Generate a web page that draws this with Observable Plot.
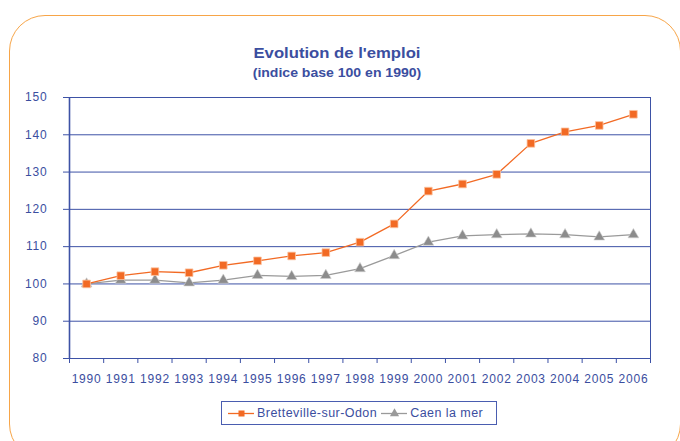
<!DOCTYPE html>
<html><head><meta charset="utf-8">
<script src="https://cdn.jsdelivr.net/npm/d3@7"></script>
<script src="https://cdn.jsdelivr.net/npm/@observablehq/plot@0.6"></script>
<style>
body{margin:0;background:#fff;font-family:"Liberation Sans",Arial,sans-serif;}
#wrap{position:relative;width:680px;height:441px;overflow:hidden;background:#fff;}
#frame{position:absolute;left:9px;top:15px;width:672px;height:445px;border:1.5px solid #F7A548;border-radius:36px;box-sizing:border-box;}
#chart{position:absolute;left:0;top:0;}
.t{position:absolute;left:0;width:674px;text-align:center;color:#3B4EA0;font-weight:bold;transform-origin:337px 50%;}
#title{top:45px;font-size:14.5px;transform:scaleX(1.15);}
#subtitle{top:66px;font-size:12px;transform:scaleX(1.17);}
#legend{position:absolute;left:221px;top:401px;width:276px;height:24px;border:1px solid #4A5DB0;box-sizing:border-box;display:flex;align-items:center;padding-left:6px;color:#3B4EA0;font-size:12.5px;letter-spacing:0.45px;white-space:nowrap;}
#legend svg{display:block;margin-right:3px;}
#chart text{letter-spacing:0.8px;}
</style></head><body>
<div id="wrap">
  <div id="frame"></div>
  <div id="chart"></div>
  <div class="t" id="title">Evolution de l'emploi</div>
  <div class="t" id="subtitle">(indice base 100 en 1990)</div>
  <div id="legend"></div>
</div>
<script>
const years = [1990,1991,1992,1993,1994,1995,1996,1997,1998,1999,2000,2001,2002,2003,2004,2005,2006];
const bretteville = [100,102.2,103.3,103,105,106.2,107.5,108.4,111.2,116.1,124.9,126.8,129.4,137.7,140.8,142.5,145.5];
const caen = [100,101,101,100.3,101,102.3,102,102.3,104.1,107.6,111.2,112.9,113.2,113.4,113.2,112.6,113.2];
const yTicks = [80,90,100,110,120,130,140,150];
const seriesNames = ["Bretteville-sur-Odon","Caen la mer"];

const blue = "#3D52A6";
const textBlue = "#3B4EA0";
const orange = "#F26A24";
const gray = "#8C8C8C";

const data = [];
years.forEach((y,i)=>{
  data.push({year:y, value:bretteville[i], series:seriesNames[0]});
  data.push({year:y, value:caen[i], series:seriesNames[1]});
});
const boundaries = years.map(y=>y-0.5).concat([years[years.length-1]+0.5]);

const chart = Plot.plot({
  width:680, height:441,
  marginLeft:69, marginRight:30, marginTop:97, marginBottom:83,
  style:{background:"transparent", fontFamily:"'Liberation Sans', Arial, sans-serif"},
  x:{type:"linear", domain:[boundaries[0], boundaries[boundaries.length-1]], axis:null},
  y:{domain:[yTicks[0], yTicks[yTicks.length-1]], axis:null},
  marks:[
    Plot.ruleY(yTicks, {stroke:blue, strokeWidth:1}),
    Plot.ruleX([boundaries[0]], {stroke:blue, strokeWidth:1.6}),
    Plot.ruleX([boundaries[boundaries.length-1]], {stroke:blue, strokeWidth:1}),
    Plot.axisX(boundaries, {tickSize:5, tickFormat:()=> "", stroke:blue, strokeOpacity:1, label:null}),
    Plot.axisX(years, {tickSize:0, tickPadding:16, tickFormat:d=>String(d), fontSize:12, color:textBlue, label:null}),
    Plot.axisY(yTicks, {tickSize:6, tickPadding:16, fontSize:12, color:textBlue, stroke:blue, strokeOpacity:1, label:null}),
    Plot.line(data.filter(d=>d.series===seriesNames[1]), {x:"year", y:"value", stroke:"#9A9A9A", strokeWidth:1.3}),
    Plot.line(data.filter(d=>d.series===seriesNames[0]), {x:"year", y:"value", stroke:orange, strokeWidth:1.3}),
    Plot.dot(data.filter(d=>d.series===seriesNames[1]), {x:"year", y:"value", symbol:"triangle", r:4, fill:gray, stroke:"#D0D0D0", strokeWidth:0.6}),
    Plot.dot(data.filter(d=>d.series===seriesNames[0]), {x:"year", y:"value", symbol:"square", r:4.3, fill:orange, stroke:"#FBC3A0", strokeWidth:0.8})
  ]
});
document.getElementById("chart").appendChild(chart);

// legend
const legend = document.getElementById("legend");
const swatch = (color, sym, r) => Plot.plot({
  width:26, height:14, margin:0,
  x:{domain:[0,1], axis:null}, y:{domain:[0,1], axis:null},
  style:{background:"transparent"},
  marks:[
    Plot.ruleY([0.5], {stroke:color, strokeWidth:1.3}),
    Plot.dot([{x:0.5,y:0.5}], {x:"x", y:"y", symbol:sym, r:r, fill:color})
  ]
});
const colors = [orange, "#9A9A9A"];
const syms = ["square","triangle"];
const rs = [3.4, 3.4];
seriesNames.forEach((name,i)=>{
  legend.appendChild(swatch(colors[i], syms[i], rs[i]));
  const sp = document.createElement("span");
  sp.textContent = name;
  sp.style.marginRight = "4px";
  legend.appendChild(sp);
});
</script>
</body></html>
